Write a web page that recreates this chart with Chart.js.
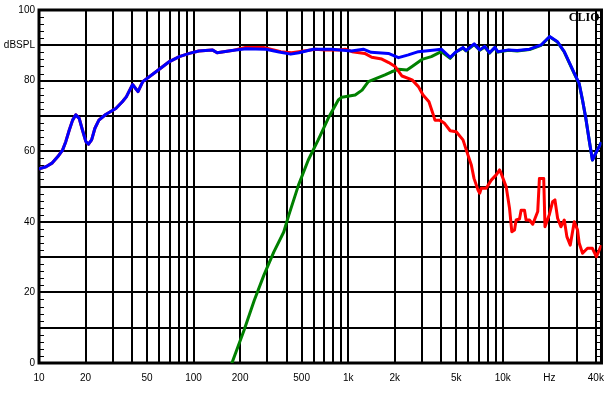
<!DOCTYPE html>
<html>
<head>
<meta charset="utf-8">
<script src="https://cdn.jsdelivr.net/npm/chart.js@4/dist/chart.umd.min.js"></script>
<style>
  html, body { margin: 0; padding: 0; background: #fff; }
  #wrap { width: 613px; height: 395px; }
</style>
</head>
<body>
<div id="wrap"><canvas id="c" width="613" height="395"></canvas></div>
<script>
// ---- Data (frequency in Hz, level in dB SPL) ----
const blueFreq = [10, 11.1, 12.2, 13.2, 14.2, 14.9, 15.7, 16.5, 17.3, 18.2, 19.1, 20.1, 20.9, 21.9, 23.0, 24.4, 27.0, 31.4, 34.6, 36.7, 40.3, 43.7, 46.9, 57.1, 69.8, 80.8, 93.9, 108, 132, 142, 177, 218, 293, 357, 425, 479, 596, 782, 1050, 1252, 1407, 1820, 2117, 2450, 2845, 3640, 4000, 4570, 5000, 5530, 5780, 6530, 7100, 7640, 8220, 8880, 9290, 10900, 12400, 14900, 17700, 20100, 22600, 25000, 29000, 31200, 32800, 34400, 36200, 38000, 40900, 43000];
const blueDb   = [55.0, 55.6, 56.7, 58.4, 60.3, 62.7, 66.0, 68.8, 70.3, 69.3, 66.0, 62.7, 62.0, 63.2, 66.5, 68.8, 70.4, 72.1, 74.0, 75.4, 78.9, 76.9, 79.7, 82.5, 85.4, 86.8, 87.7, 88.4, 88.7, 87.9, 88.5, 89.0, 88.9, 88.1, 87.5, 87.9, 88.9, 88.9, 88.4, 88.9, 88.0, 87.7, 86.5, 87.3, 88.2, 88.7, 88.9, 86.6, 88.2, 89.4, 88.5, 90.4, 88.7, 89.7, 87.9, 89.4, 88.2, 88.7, 88.5, 88.9, 90.1, 92.5, 91.0, 88.2, 82.1, 79.2, 74.5, 69.5, 63.2, 57.5, 60.3, 62.2];

const redFreq = [10, 11.1, 12.2, 13.2, 14.2, 14.9, 15.7, 16.5, 17.3, 18.2, 19.1, 20.1, 20.9, 21.9, 23.0, 24.4, 27.0, 31.4, 34.6, 36.7, 40.3, 43.7, 46.9, 57.1, 69.8, 80.8, 93.9, 108, 132, 142, 177, 216, 284, 315, 366, 430, 479, 614, 711, 867, 957, 1060, 1280, 1420, 1650, 1830, 2010, 2230, 2590, 2845, 3050, 3330, 3530, 3640, 3900, 4200, 4570, 5000, 5530, 5810, 6260, 6515, 6915, 7090, 7260, 7820, 8420, 9070, 9540, 9765, 10520, 11060, 11440, 11910, 12200, 12830, 13140, 13820, 14150, 14880, 15630, 16830, 17260, 18400, 18750, 20020, 21020, 21750, 22630, 23770, 25000, 25980, 27330, 29000, 30450, 31200, 32800, 35320, 38000, 40360, 43000];
const redDb   = [55.0, 55.6, 56.7, 58.4, 60.3, 62.7, 66.0, 68.8, 70.3, 69.3, 66.0, 62.7, 62.0, 63.2, 66.5, 68.8, 70.4, 72.1, 74.0, 75.4, 78.9, 76.9, 79.7, 82.5, 85.4, 86.8, 87.7, 88.4, 88.7, 87.9, 88.5, 89.4, 89.4, 88.9, 88.2, 87.9, 88.2, 88.9, 88.7, 88.7, 88.9, 88.2, 87.7, 86.6, 86.1, 85.1, 84.0, 81.3, 80.2, 78.3, 75.9, 74.0, 70.7, 68.8, 68.8, 67.9, 65.8, 65.5, 63.2, 60.3, 56.1, 52.3, 49.0, 48.1, 49.5, 49.5, 51.8, 53.3, 54.7, 53.7, 49.9, 43.8, 37.2, 37.7, 40.5, 40.8, 43.3, 43.3, 40.5, 40.5, 39.3, 42.9, 52.3, 52.3, 38.6, 42.1, 45.7, 46.2, 41.0, 38.6, 40.5, 35.8, 33.4, 40.0, 37.7, 34.0, 31.1, 32.5, 32.5, 30.1, 33.0];

const greenFreq = [177, 212, 247, 285, 330, 383, 413, 477, 552, 640, 744, 863, 910, 1110, 1230, 1350, 1730, 1910, 2110, 2400, 2590, 3000, 3450, 4000, 4570, 5000, 5530, 5780, 6530, 7100, 7640, 8220, 8880, 9290, 10900, 12400, 14900, 17700, 20100, 22600, 25000, 29000, 31200, 32800, 34400, 36200, 38000, 40900, 43000];
const greenDb   = [0, 9.3, 17.8, 24.9, 31.4, 37.1, 41.9, 50.4, 57.5, 63.2, 69.4, 74.5, 75.3, 75.9, 77.3, 79.7, 81.6, 82.5, 83.2, 83.0, 84.0, 86.0, 86.8, 88.2, 86.3, 88.2, 89.2, 88.4, 90.2, 88.6, 89.5, 87.8, 89.3, 88.1, 88.6, 88.4, 88.8, 90.0, 92.4, 90.9, 88.1, 82.0, 79.1, 74.4, 69.5, 63.2, 57.5, 60.3, 62.2];

// ---- Axis ticks / labels ----
const xGridValues = [10,20,30,40,50,60,70,80,90,100,200,300,400,500,600,700,800,900,1000,2000,3000,4000,5000,6000,7000,8000,9000,10000,20000,30000,40000];
const xTickLabels = {10:'10', 20:'20', 50:'50', 100:'100', 200:'200', 500:'500', 1000:'1k', 2000:'2k', 5000:'5k', 10000:'10k', 20000:'Hz', 40000:'40k'};
const yTickLabels = {100:'100', 90:'dBSPL', 80:'80', 60:'60', 40:'40', 20:'20', 0:'0'};

const toXY = (f, d) => f.map((v, i) => ({x: v, y: d[i]}));

const FONT = "'Liberation Sans', Arial, sans-serif";

const framePlugin = {
  id: 'frame',
  beforeDatasetsDraw(chart) {
    const {ctx, chartArea: a, scales} = chart;
    ctx.save();
    // minor ticks every 2 dB on left and right, pointing inward
    ctx.strokeStyle = '#000';
    ctx.lineWidth = 1;
    ctx.beginPath();
    for (let v = 2; v < 100; v += 2) {
      if (v % 10 === 0) continue;
      const y = Math.round(scales.y.getPixelForValue(v)) + 0.5;
      ctx.moveTo(a.left, y); ctx.lineTo(a.left + 5, y);
      ctx.moveTo(a.right - 5, y); ctx.lineTo(a.right, y);
    }
    ctx.stroke();
    ctx.lineWidth = 3;
    ctx.strokeRect(a.left, a.top, a.right - a.left, a.bottom - a.top);
    ctx.restore();
  },
  afterDraw(chart) {
    const {ctx, chartArea: a} = chart;
    ctx.save();
    ctx.font = "bold 12px 'Liberation Serif', 'Times New Roman', serif";
    ctx.fillStyle = '#000';
    ctx.textAlign = 'right';
    ctx.textBaseline = 'top';
    ctx.fillText('CLIO', a.right - 2, a.top + 2);
    ctx.restore();
  }
};

const bgPlugin = {
  id: 'bg',
  beforeDraw(chart) {
    const ctx = chart.ctx;
    ctx.save();
    ctx.fillStyle = '#fff';
    ctx.fillRect(0, 0, chart.width, chart.height);
    ctx.restore();
  }
};

new Chart(document.getElementById('c'), {
  type: 'line',
  data: {
    datasets: [
      { label: 'Total', data: toXY(blueFreq, blueDb), borderColor: '#0000ff', borderWidth: 3, order: 0 },
      { label: 'Woofer', data: toXY(redFreq, redDb), borderColor: '#ff0000', borderWidth: 3, order: 1 },
      { label: 'Tweeter', data: toXY(greenFreq, greenDb), borderColor: '#008000', borderWidth: 3, order: 2 }
    ]
  },
  options: {
    responsive: false,
    devicePixelRatio: 1,
    animation: false,
    parsing: true,
    elements: { point: { radius: 0 }, line: { tension: 0, borderJoinStyle: 'round', borderCapStyle: 'round' } },
    layout: { padding: { top: 10, right: 9, left: 0, bottom: 0 } },
    plugins: { legend: { display: false }, tooltip: { enabled: false } },
    scales: {
      x: {
        type: 'logarithmic',
        min: 10,
        max: 43500,
        afterBuildTicks: (s) => { s.ticks = xGridValues.map(v => ({ value: v })); },
        afterFit: (s) => { s.height = 32; },
        ticks: {
          autoSkip: false, maxRotation: 0, minRotation: 0, padding: 9,
          color: '#000', font: { family: FONT, size: 10 },
          callback: (v) => xTickLabels[v] ?? ''
        },
        grid: { color: '#000', lineWidth: 2, drawTicks: false },
        border: { display: false }
      },
      y: {
        type: 'linear',
        min: 0, max: 100,
        afterFit: (s) => { s.width = 39; },
        ticks: {
          stepSize: 10, padding: 4, autoSkip: false,
          color: '#000', font: { family: FONT, size: 10 },
          callback: (v) => yTickLabels[v] ?? ''
        },
        grid: { color: '#000', lineWidth: 2, drawTicks: false },
        border: { display: false }
      }
    }
  },
  plugins: [bgPlugin, framePlugin]
});
</script>
</body>
</html>
